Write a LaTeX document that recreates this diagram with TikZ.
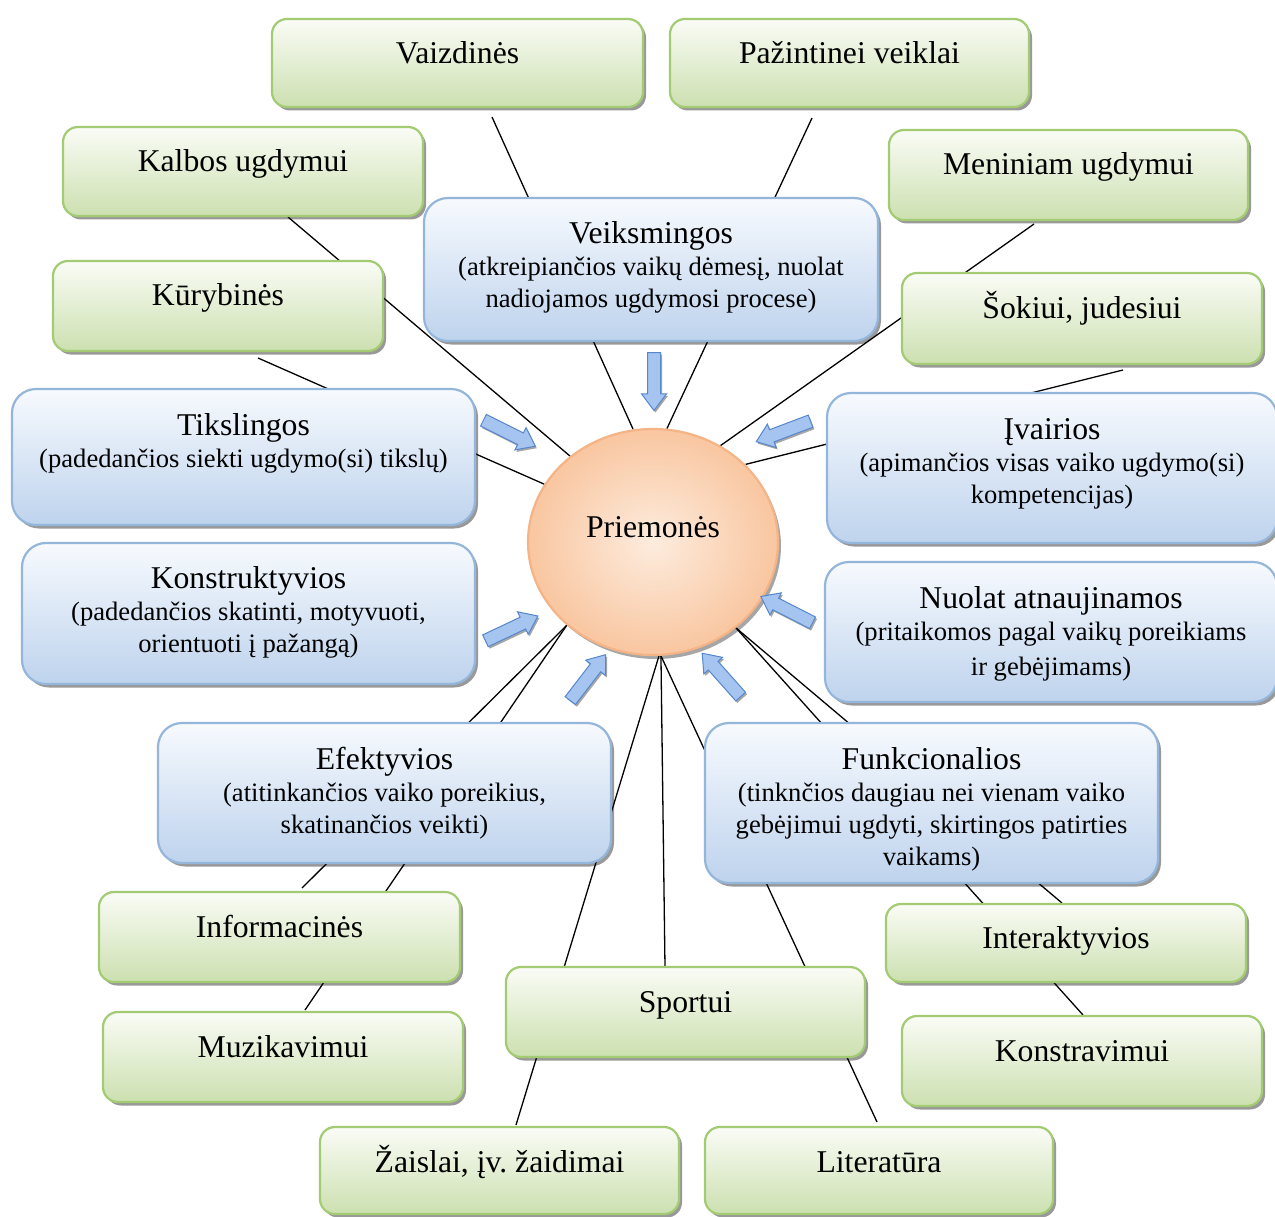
\documentclass[tikz,border=0pt]{standalone}
\usepackage{fontspec}
\setmainfont{Liberation Serif}
\frenchspacing
\usetikzlibrary{shapes.geometric,shapes.arrows,shadows}
\definecolor{bluetop}{RGB}{247,250,254}
\definecolor{bluebot}{RGB}{190,211,237}
\definecolor{blueline}{RGB}{149,182,219}
\definecolor{greentop}{RGB}{250,252,246}
\definecolor{greenbot}{RGB}{204,224,176}
\definecolor{greenline}{RGB}{163,203,115}
\definecolor{peachin}{RGB}{253,236,222}
\definecolor{peachout}{RGB}{249,198,160}
\definecolor{peachline}{RGB}{245,180,134}
\definecolor{arrowfill}{RGB}{165,196,240}
\definecolor{arrowline}{RGB}{86,135,205}
\newcommand\tfont{\fontsize{31.7pt}{36pt}\selectfont}
\newcommand\sfont{\fontsize{26.6pt}{32pt}\selectfont}
\pgfdeclarelayer{bg}
\pgfsetlayers{bg,main}
\newcommand\mkbox[8]{%
  \pgfmathsetmacro\mkW{#5-#3}%
  \pgfmathsetmacro\mkH{#6-#4}%
  \node[#1, minimum width=\mkW pt, minimum height=\mkH pt, inner sep=0pt]
    (#2) at ({(#3+#5)/2},{(#4+#6)/2})
    {\parbox[c][\mkH pt][t]{\mkW pt}{\sfont\centering\rule{0pt}{#7pt}#8}};%
}
\tikzset{
  gbox/.style={draw=greenline, line width=2.2pt, rounded corners=15pt,
    top color=greentop, bottom color=greenbot,
    drop shadow={shadow xshift=3pt, shadow yshift=-3.5pt, opacity=0.4, fill=black}},
  bbox/.style={draw=blueline, line width=2.2pt, rounded corners=24pt,
    top color=bluetop, bottom color=bluebot,
    drop shadow={shadow xshift=3pt, shadow yshift=-3.5pt, opacity=0.4, fill=black}},
  hub/.style={ellipse, draw=peachline, line width=2.2pt, inner color=peachin, outer color=peachout,
    minimum width=250pt, minimum height=226pt, text height=20pt, text depth=30pt, inner sep=0pt,
    drop shadow={shadow xshift=3pt, shadow yshift=-4pt, opacity=0.35, fill=black}},
  barrow/.style={single arrow, draw=arrowline, line width=1pt, fill=arrowfill,
    minimum height=58pt, minimum width=24pt, single arrow head extend=6pt,
    single arrow tip angle=74, inner xsep=0pt, inner ysep=6pt, anchor=tail,
    drop shadow={shadow xshift=1.5pt, shadow yshift=-2pt, opacity=0.35, fill=black}},
  conn/.style={line width=1.3pt, black},
}
\begin{document}
\begin{tikzpicture}[x=1pt, y=-1pt]
\useasboundingbox (0,0) rectangle (1275,1217);
% hub
\node[hub] (prie) at (653,542) {\tfont Priemonės};
% green boxes
\mkbox{gbox}{vaiz}{272}{19}{643}{107}{45}{\tfont Vaizdinės}
\mkbox{gbox}{paz}{670}{19}{1029}{107}{45}{\tfont Pažintinei veiklai}
\mkbox{gbox}{kalb}{63}{127}{423}{216}{45}{\tfont Kalbos ugdymui}
\mkbox{gbox}{men}{889}{130}{1248}{220}{45}{\tfont Meniniam ugdymui}
\mkbox{gbox}{kur}{53}{261}{383}{351}{45}{\tfont Kūrybinės}
\mkbox{gbox}{sok}{902}{273}{1262}{364}{46}{\tfont Šokiui, judesiui}
\mkbox{gbox}{info}{99}{892}{460}{982}{45}{\tfont Informacinės}
\mkbox{gbox}{inter}{886}{904}{1246}{982}{44}{\tfont Interaktyvios}
\mkbox{gbox}{sport}{506}{967}{865}{1057}{45}{\tfont Sportui}
\mkbox{gbox}{muz}{103}{1012}{463}{1102}{45}{\tfont Muzikavimui}
\mkbox{gbox}{kons}{902}{1016}{1262}{1106}{45}{\tfont Konstravimui}
\mkbox{gbox}{zais}{320}{1127}{679}{1214}{45}{\tfont Žaislai, įv. žaidimai}
\mkbox{gbox}{lit}{705}{1127}{1053}{1214}{45}{\tfont Literatūra}
% blue boxes
\mkbox{bbox}{veik}{424}{198}{878}{341}{46}{{\tfont Veiksmingos}\\(atkreipiančios vaikų dėmesį, nuolat\\nadiojamos ugdymosi procese)}
\mkbox{bbox}{tiks}{12}{389}{475}{525}{46}{{\tfont Tikslingos}\\(padedančios siekti ugdymo(si) tikslų)}
\mkbox{bbox}{kstr}{22}{543}{475}{684}{45}{{\tfont Konstruktyvios}\\(padedančios skatinti, motyvuoti,\\orientuoti į pažangą)}
\mkbox{bbox}{ivai}{827}{393}{1277}{543}{46}{{\tfont Įvairios}\\(apimančios visas vaiko ugdymo(si)\\kompetencijas)}
\mkbox{bbox}{nuol}{825}{562}{1277}{702}{46}{{\tfont Nuolat atnaujinamos}\\(pritaikomos pagal vaikų poreikiams\\[3pt]ir gebėjimams)}
\mkbox{bbox}{efek}{158}{723}{611}{863}{46}{{\tfont Efektyvios}\\(atitinkančios vaiko poreikius,\\skatinančios veikti)}
\mkbox{bbox}{funk}{705}{723}{1158}{883}{46}{{\tfont Funkcionalios}\\(tinknčios daugiau nei vienam vaiko\\gebėjimui ugdyti, skirtingos patirties\\vaikams)}
% block arrows
\node[barrow, rotate=-90] (a1) at (654,352) {};
\node[barrow, rotate=-26.6] (a2) at (483,420) {};
\node[barrow, rotate=200.7] (a3) at (811,421) {};
\node[barrow, rotate=25.3] (a4) at (485,641) {};
\node[barrow, rotate=153] (a5) at (813,623) {};
\node[barrow, rotate=52.4] (a6) at (570,701) {};
\node[barrow, rotate=131.6] (a7) at (741,697) {};
% connector start points
\coordinate (svaiz) at (492,117);
\coordinate (spaz) at (812,118);
\coordinate (skalb) at (288,217);
\coordinate (skur) at (258,358);
\coordinate (smen) at (1034,224);
\coordinate (ssok) at (1123,370);
\coordinate (sinfo) at (302,888);
\coordinate (smuz) at (305,1010);
\coordinate (ssport) at (665,967);
\coordinate (szais) at (516,1125);
\coordinate (slit) at (877,1122);
\coordinate (sinter) at (1062,903);
\coordinate (skons) at (1083,1015);
\begin{pgfonlayer}{bg}
\fill[white] (0,0) rectangle (1275,1217);
\draw[conn] (svaiz) -- (prie.100);
\draw[conn] (spaz) -- (prie.83);
\draw[conn] (skalb) -- (prie.134);
\draw[conn] (skur) -- (prie.152);
\draw[conn] (smen) -- (prie.55);
\draw[conn] (ssok) -- (prie.40);
\draw[conn] (sinfo) -- (prie.224);
\draw[conn] (smuz) -- (prie.224);
\draw[conn] (ssport) -- (prie.274);
\draw[conn] (szais) -- (prie.273);
\draw[conn] (slit) -- (prie.274);
\draw[conn] (sinter) -- (prie.314);
\draw[conn] (skons) -- (prie.314);
\end{pgfonlayer}
\end{tikzpicture}
\end{document}
